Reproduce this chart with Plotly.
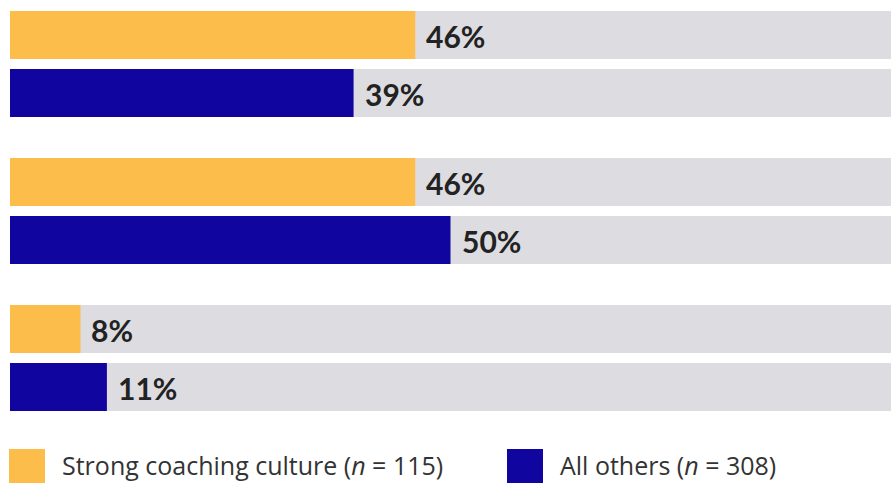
import plotly.graph_objects as go

groups = [0, 1, 2]
strong = [46, 46, 8]
others = [39, 50, 11]
series_names = ["Strong coaching culture (<i>n</i> = 115)", "All others (<i>n</i> = 308)"]
colors = ["#FCBD4A", "#10069F"]
track_color = "#DCDCE1"

W, H = 891, 483
ML = 10
PW = W - ML
off = 29 / 147
bw = 48 / 147

fig = go.Figure()
y_strong = [g - off for g in groups]
y_others = [g + off for g in groups]
ys_all = y_strong + y_others
fig.add_trace(go.Bar(x=[100] * len(ys_all), y=ys_all, orientation="h", width=bw,
                     marker=dict(color=track_color, line=dict(width=0)),
                     hoverinfo="skip", showlegend=False))
for ys, vals, c in [(y_strong, strong, colors[0]), (y_others, others, colors[1])]:
    fig.add_trace(go.Bar(x=vals, y=ys, orientation="h", width=bw,
                         marker=dict(color=c, line=dict(width=0)), showlegend=False))
    for y, v in zip(ys, vals):
        fig.add_annotation(x=v, y=y, xref="x", yref="y", text=f"<b>{v}%</b>",
                           showarrow=False, xanchor="left", yanchor="middle",
                           xshift=9, yshift=-1,
                           font=dict(family="Lato", size=30, color="#222222"))

def px_x(p):
    return (p - ML) / PW

def px_y(p):
    return 1 - p / H

legend_items = [(9, colors[0], series_names[0]), (507, colors[1], series_names[1])]
for x0, c, name in legend_items:
    fig.add_shape(type="rect", xref="paper", yref="paper",
                  x0=px_x(x0), x1=px_x(x0 + 36), y0=px_y(449), y1=px_y(485),
                  fillcolor=c, line=dict(width=0), layer="above")
    fig.add_annotation(xref="paper", yref="paper", x=px_x(x0 + 52), y=0,
                       text=name, showarrow=False, xanchor="left", yanchor="bottom",
                       borderpad=0,
                       font=dict(family="Open Sans", size=25, color="#333333"))

g0_px = 64
gstep = 147
fig.update_layout(
    width=W, height=H,
    margin=dict(l=ML, r=0, t=0, b=0),
    barmode="overlay",
    plot_bgcolor="white", paper_bgcolor="white",
    xaxis=dict(range=[0, 100], visible=False, fixedrange=True),
    yaxis=dict(range=[(H - g0_px) / gstep, -g0_px / gstep], visible=False, fixedrange=True),
    showlegend=False,
)
fig.write_html("out.html")
